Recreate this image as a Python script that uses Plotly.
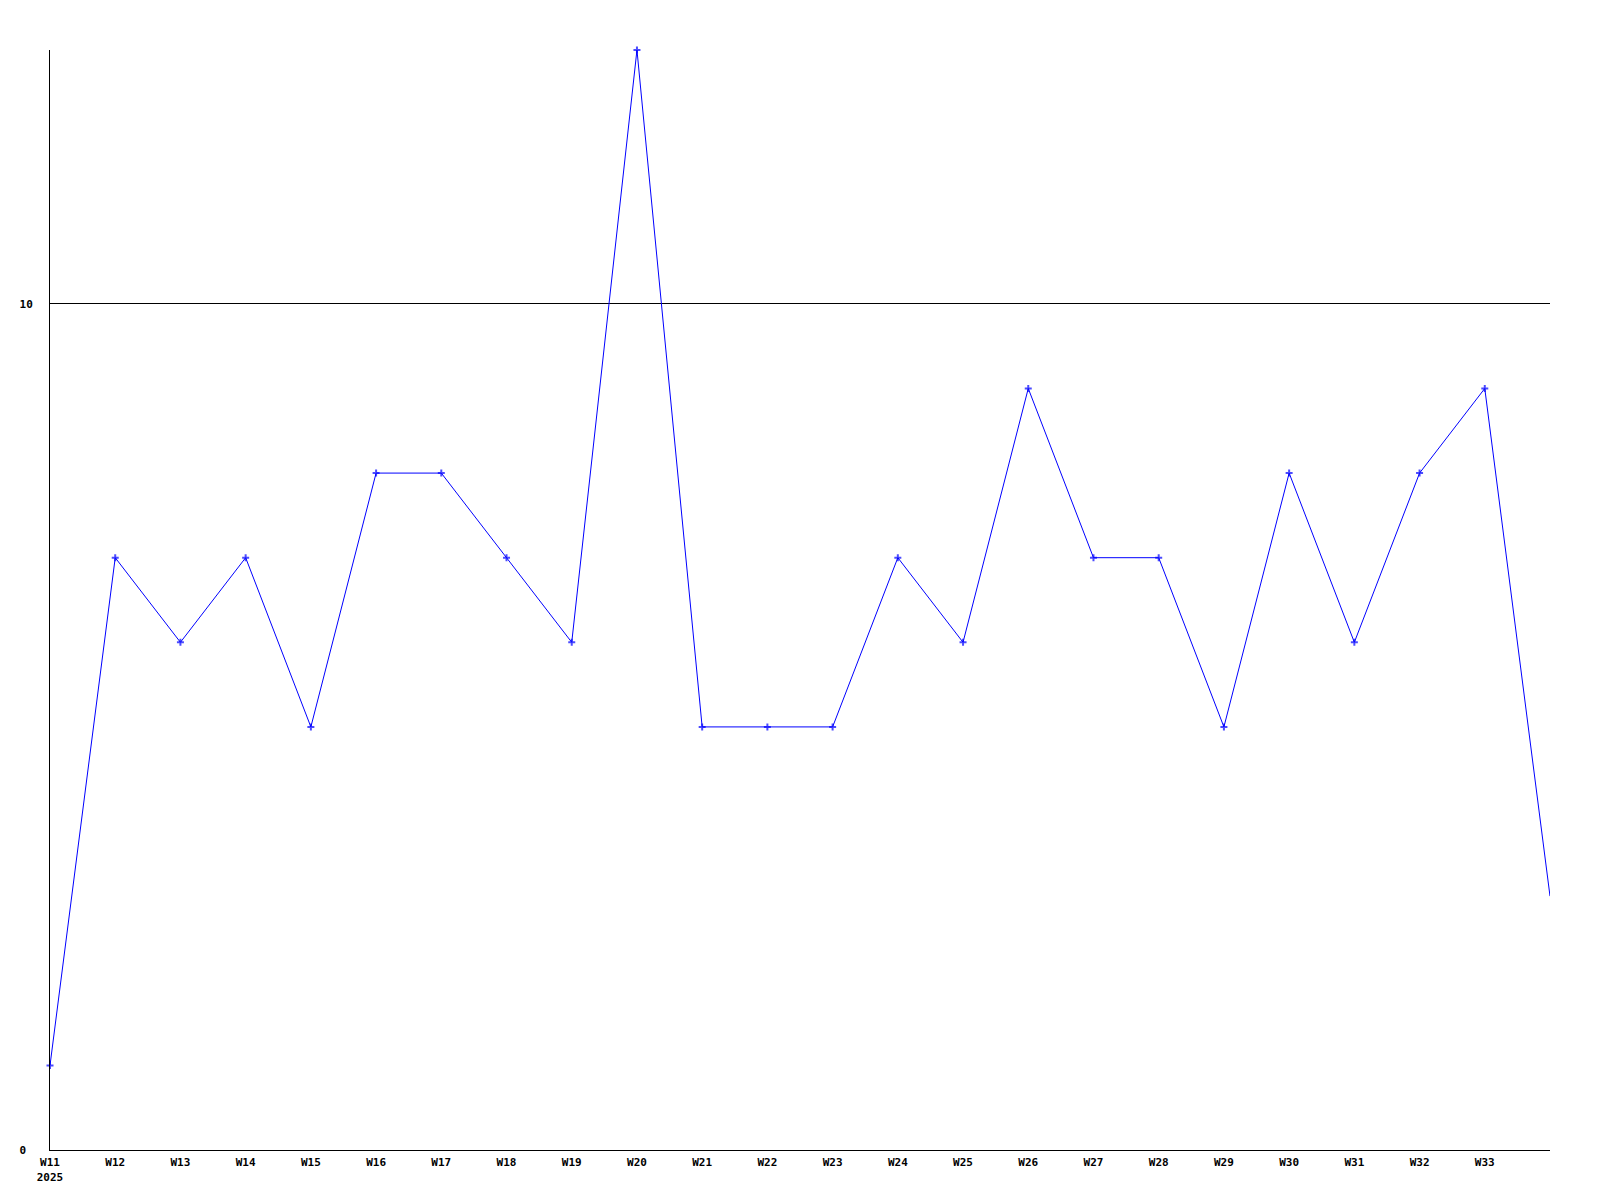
import plotly.graph_objects as go

weeks = ["W11", "W12", "W13", "W14", "W15", "W16", "W17", "W18", "W19", "W20",
         "W21", "W22", "W23", "W24", "W25", "W26", "W27", "W28", "W29", "W30",
         "W31", "W32", "W33", "W34"]
values = [1, 7, 6, 7, 5, 8, 8, 7, 6, 13, 5, 5, 5, 7, 6, 9, 7, 7, 5, 8, 6, 8, 9, 3]
year_label = "2025"
y_ticks = [0, 10]
y_tick_text = ["0\u00a0", "10"]

x = list(range(len(weeks)))
tick_text = [w + ("<br>" + year_label if i == 0 else "") for i, w in enumerate(weeks[:-1])]
marker_sizes = [5] * (len(values) - 1) + [0]

fig = go.Figure()
fig.add_trace(go.Scatter(
    x=x, y=values, mode="lines+markers",
    line=dict(color="#0000FF", width=1),
    marker=dict(symbol="cross-thin", size=marker_sizes, color="#0000FF",
                line=dict(color="#0000FF", width=2)),
    cliponaxis=False, hoverinfo="skip",
))

tf = dict(family="DejaVu Sans Mono", size=11, color="black", weight="bold")
fig.update_layout(
    width=1600, height=1200,
    margin=dict(l=42, r=58, t=42, b=58, autoexpand=False),
    plot_bgcolor="white", paper_bgcolor="white",
    showlegend=False,
    xaxis=dict(range=[0, len(weeks) - 1], tickmode="array", tickvals=x[:-1],
               ticktext=tick_text, showgrid=False, zeroline=False, automargin=False,
               showline=True, linecolor="black", linewidth=1,
               ticks="", ticklabelstandoff=2, tickfont=tf),
    yaxis=dict(range=[0, 13], tickmode="array", tickvals=y_ticks, ticktext=y_tick_text,
               showgrid=True, gridcolor="black", gridwidth=1, zeroline=False, automargin=False,
               showline=True, linecolor="black", linewidth=1,
               ticks="", ticklabelstandoff=14, tickfont=tf),
)

fig.write_html("out.html")
